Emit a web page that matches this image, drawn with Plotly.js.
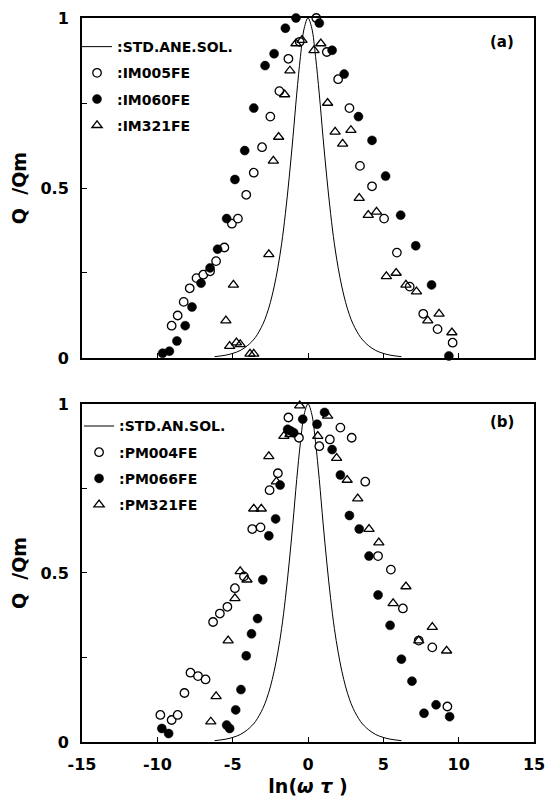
<!DOCTYPE html>
<html>
<head>
<meta charset="utf-8">
<script src="https://cdn.plot.ly/plotly-3.0.1.min.js"></script>
<style>
  html, body { margin: 0; padding: 0; background: #fff; }
  #chart { width: 554px; height: 798px; }
</style>
</head>
<body>
<div id="chart"></div>
<script>
// ---- Standard anelastic solid (Debye peak) curve ----
const stdX = [-6.2, -5.5, -5, -4.5, -4, -3.5, -3, -2.75, -2.5, -2.25, -2, -1.75, -1.5, -1.25, -1, -0.75, -0.5, -0.25, 0,
              0.25, 0.5, 0.75, 1, 1.25, 1.5, 1.75, 2, 2.25, 2.5, 2.75, 3, 3.5, 4, 4.5, 5, 5.5, 6.2];
const stdY = [0.004, 0.008, 0.0135, 0.022, 0.037, 0.060, 0.099, 0.127, 0.163, 0.209, 0.266, 0.336, 0.425, 0.530, 0.648, 0.776, 0.887, 0.970, 1.0,
              0.970, 0.887, 0.776, 0.648, 0.530, 0.425, 0.336, 0.266, 0.209, 0.163, 0.127, 0.099, 0.060, 0.037, 0.022, 0.0135, 0.008, 0.004];

// ---- Panel (a) ----
const im005X = [-9.05, -8.65, -8.25, -7.85, -7.4, -6.95, -6.5, -6.1, -5.55, -5.05, -4.65, -4.1, -3.6, -3.05, -2.5, -1.9, -1.3, -0.55, 0.55, 1.25, 2.0, 2.75, 3.45, 4.25, 5.05, 5.9, 6.75, 7.65, 8.6, 9.6];
const im005Y = [0.095, 0.125, 0.165, 0.205, 0.235, 0.245, 0.255, 0.285, 0.325, 0.395, 0.41, 0.48, 0.545, 0.62, 0.71, 0.785, 0.88, 0.93, 1.0, 0.9, 0.82, 0.735, 0.565, 0.505, 0.41, 0.31, 0.21, 0.13, 0.085, 0.045];

const im060X = [-9.65, -9.2, -8.7, -8.15, -7.7, -7.1, -6.5, -6.0, -5.4, -4.85, -4.2, -3.6, -2.85, -2.25, -1.5, -0.8, 0.75, 1.6, 2.4, 3.35, 4.25, 5.15, 6.15, 7.15, 8.2, 9.35];
const im060Y = [0.014, 0.02, 0.05, 0.095, 0.15, 0.22, 0.265, 0.32, 0.41, 0.525, 0.61, 0.735, 0.86, 0.895, 0.97, 1.0, 0.985, 0.905, 0.835, 0.71, 0.64, 0.535, 0.42, 0.33, 0.215, 0.006];

const im321X = [-5.45, -5.2, -4.95, -4.75, -4.5, -3.85, -3.6, -2.6, -2.3, -1.95, -1.55, -1.2, -0.8, -0.4, 0.4, 0.85, 1.3, 1.8, 2.3, 2.85, 3.4, 4.0, 4.55, 5.2, 5.85, 6.5, 7.2, 7.95, 8.7, 9.55];
const im321Y = [0.11, 0.035, 0.215, 0.045, 0.04, 0.012, 0.012, 0.305, 0.58, 0.65, 0.775, 0.845, 0.925, 0.935, 0.905, 0.925, 0.75, 0.665, 0.63, 0.67, 0.47, 0.42, 0.43, 0.24, 0.25, 0.215, 0.195, 0.11, 0.13, 0.075];

// ---- Panel (b) ----
const pm004X = [-9.8, -9.05, -8.65, -8.2, -7.8, -7.3, -6.8, -6.3, -5.85, -5.35, -4.85, -4.25, -3.7, -3.15, -2.55, -2.0, -1.3, -0.6, 0.75, 1.45, 2.15, 2.9, 3.8, 4.65, 5.5, 6.3, 7.35, 8.25, 9.25];
const pm004Y = [0.08, 0.065, 0.08, 0.145, 0.205, 0.195, 0.185, 0.355, 0.38, 0.40, 0.455, 0.49, 0.63, 0.635, 0.745, 0.795, 0.96, 0.9, 0.875, 0.895, 0.93, 0.9, 0.77, 0.55, 0.51, 0.395, 0.30, 0.28, 0.105];

const pm066X = [-9.7, -9.25, -5.4, -5.2, -4.8, -4.45, -4.1, -3.75, -3.35, -3.0, -2.6, -2.15, -1.85, -1.35, -1.15, -0.95, -0.35, 0.6, 1.1, 1.6, 2.15, 2.75, 3.4, 4.05, 4.65, 5.45, 6.2, 6.9, 7.7, 8.5, 9.4];
const pm066Y = [0.04, 0.025, 0.05, 0.04, 0.095, 0.155, 0.255, 0.32, 0.365, 0.48, 0.61, 0.66, 0.76, 0.925, 0.92, 0.915, 0.955, 0.94, 0.975, 0.865, 0.79, 0.67, 0.63, 0.55, 0.435, 0.345, 0.245, 0.18, 0.085, 0.11, 0.075];

const pm321X = [-6.45, -6.1, -5.3, -4.85, -4.5, -4.05, -3.6, -3.1, -2.6, -2.1, -1.6, -1.2, -0.55, 0.65, 1.3, 1.9, 2.6, 3.3, 4.05, 4.7, 5.65, 6.5, 7.35, 8.25, 9.2];
const pm321Y = [0.06, 0.135, 0.30, 0.425, 0.505, 0.48, 0.69, 0.69, 0.845, 0.77, 0.905, 0.91, 0.995, 0.905, 0.965, 0.84, 0.775, 0.72, 0.63, 0.59, 0.41, 0.46, 0.30, 0.34, 0.27];

// ---- Names / labels ----
const namesA = [':STD.ANE.SOL.', ':IM005FE', ':IM060FE', ':IM321FE'];
const namesB = [':STD.AN.SOL.', ':PM004FE', ':PM066FE', ':PM321FE'];
const yTickVals = [0, 0.25, 0.5, 0.75, 1];
const yTickText = ['0', '', '0.5', '', '1'];
const xTickVals = [-15, -10, -5, 0, 5, 10, 15];
const xTickText = ['-15', '-10', '-5', '0', '5', '10', '15'];

const FONT = 'DejaVu Sans, Liberation Sans, Arial, sans-serif';

const openCircle = {symbol: 'circle', size: 8.5, color: '#ffffff', line: {color: '#000', width: 1.3}};
const filledCircle = {symbol: 'circle', size: 9, color: '#000000', line: {color: '#000', width: 0.5}};
const openTri = {symbol: 'triangle-up-open', size: 9, color: '#000000', line: {color: '#000', width: 1.3}};

function panelTraces(names, xa, ya, leg, sets) {
  return [
    {x: stdX, y: stdY, mode: 'lines', line: {color: '#000', width: 1, shape: 'spline'}, name: names[0],
     xaxis: xa, yaxis: ya, legend: leg, legendgroup: leg + '0', cliponaxis: false, hoverinfo: 'skip'},
    {x: sets[0][0], y: sets[0][1], mode: 'markers', marker: openCircle, name: names[1],
     xaxis: xa, yaxis: ya, legend: leg, legendgroup: leg + '1', cliponaxis: false},
    {x: sets[1][0], y: sets[1][1], mode: 'markers', marker: filledCircle, name: names[2],
     xaxis: xa, yaxis: ya, legend: leg, legendgroup: leg + '2', cliponaxis: false},
    {x: sets[2][0], y: sets[2][1], mode: 'markers', marker: openTri, name: names[3],
     xaxis: xa, yaxis: ya, legend: leg, legendgroup: leg + '3', cliponaxis: false}
  ];
}

const data = [
  ...panelTraces(namesA, 'x', 'y', 'legend', [[im005X, im005Y], [im060X, im060Y], [im321X, im321Y]]),
  ...panelTraces(namesB, 'x2', 'y2', 'legend2', [[pm004X, pm004Y], [pm066X, pm066Y], [pm321X, pm321Y]])
];

const axisCommon = {
  showline: true, linecolor: '#000', linewidth: 2, mirror: true,
  ticks: 'inside', ticklen: 5, tickwidth: 1, tickcolor: '#000',
  showgrid: false, zeroline: false, fixedrange: true,
  tickfont: {family: FONT, size: 16, color: '#000', weight: 'bold'}
};

const xBase = Object.assign({}, axisCommon, {range: [-15, 15], tickmode: 'array', tickvals: xTickVals, ticktext: xTickText, ticklabelstandoff: 7});
const yBase = Object.assign({}, axisCommon, {range: [0, 1], tickmode: 'array', tickvals: yTickVals, ticktext: yTickText, ticklabelstandoff: 8});

const yTitle = {text: 'Q\u00a0 /Qm', font: {family: FONT, size: 19, color: '#000', weight: 'bold'}, standoff: 9};

const legendCommon = {
  bgcolor: 'rgba(0,0,0,0)', borderwidth: 0, itemwidth: 30, tracegroupgap: 5,
  font: {family: FONT, size: 14, color: '#000', weight: 'bold'},
  xanchor: 'left', yanchor: 'top', itemclick: false, itemdoubleclick: false
};

const layout = {
  width: 554, height: 798,
  margin: {l: 82, r: 20, t: 18, b: 56},
  paper_bgcolor: '#fff', plot_bgcolor: '#fff',
  showlegend: true,
  font: {family: FONT, color: '#000'},
  xaxis: Object.assign({}, xBase, {anchor: 'y', domain: [0, 1], showticklabels: false}),
  yaxis: Object.assign({}, yBase, {anchor: 'x', domain: [0.5304, 1], title: yTitle}),
  xaxis2: Object.assign({}, xBase, {anchor: 'y2', domain: [0, 1],
    title: {text: 'ln(<i>ω τ</i> )', font: {family: FONT, size: 19, color: '#000', weight: 'bold'}, standoff: 6}}),
  yaxis2: Object.assign({}, yBase, {anchor: 'x2', domain: [0, 0.4669], title: yTitle}),
  legend: Object.assign({}, legendCommon, {x: -0.011, y: 0.982}),
  legend2: Object.assign({}, legendCommon, {x: -0.0065, y: 0.458}),
  annotations: [
    {text: '(a)', xref: 'paper', yref: 'paper', x: 0.929, y: 0.967, xanchor: 'center', yanchor: 'middle', showarrow: false,
     font: {family: FONT, size: 15, color: '#000', weight: 'bold'}},
    {text: '(b)', xref: 'paper', yref: 'paper', x: 0.929, y: 0.442, xanchor: 'center', yanchor: 'middle', showarrow: false,
     font: {family: FONT, size: 15, color: '#000', weight: 'bold'}}
  ]
};

Plotly.newPlot('chart', data, layout, {displayModeBar: false, staticPlot: true});
</script>
</body>
</html>
